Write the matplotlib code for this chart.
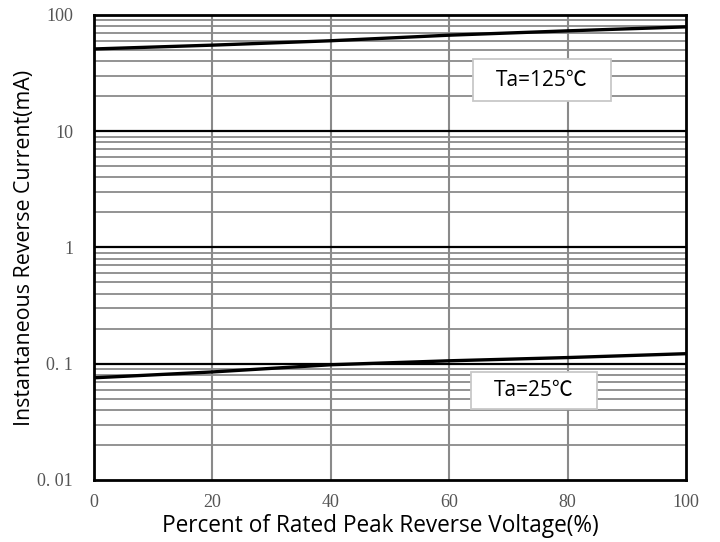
import matplotlib.pyplot as plt
from matplotlib.patches import Rectangle

# percent of rated peak reverse voltage
volt_pct = [0, 20, 40, 60, 80, 100]
# instantaneous reverse current (mA)
ir_125 = [51, 55, 60, 67, 73, 79]
ir_25 = [0.0757, 0.085, 0.098, 0.106, 0.113, 0.122]

ytick_vals = [0.01, 0.1, 1, 10, 100]
ytick_labels = ['0. 01', '0. 1', '1', '10', '100']
xtick_vals = [0, 20, 40, 60, 80, 100]

fig = plt.figure(figsize=(7.2, 5.42), dpi=100)
ax = fig.add_axes([0.1306, 0.1144, 0.822, 0.858])

ax.set_yscale('log')
ax.set_xlim(0, 100)
ax.set_ylim(0.01, 100)

# grid: gray minor lines, black decade lines
for dec in [0.01, 0.1, 1, 10]:
    for m in range(2, 10):
        ax.axhline(dec * m, color='#8a8a8a', lw=1.3, zorder=1)
for dec in ytick_vals[1:-1]:
    ax.axhline(dec, color='black', lw=1.6, zorder=2)
for x in xtick_vals[1:-1]:
    ax.axvline(x, color='#8a8a8a', lw=1.5, zorder=1)

ax.plot(volt_pct, ir_125, color='black', lw=2.4, zorder=4)
ax.plot(volt_pct, ir_25, color='black', lw=2.4, zorder=4)

ax.set_yticks(ytick_vals)
ax.set_yticklabels(ytick_labels)
ax.yaxis.set_minor_locator(plt.NullLocator())
ax.set_xticks(xtick_vals)
ax.tick_params(length=0, labelsize=13, labelcolor='#555555')
ax.tick_params(axis='y', pad=15)
ax.tick_params(axis='x', pad=10)
for lbl in ax.get_xticklabels() + ax.get_yticklabels():
    lbl.set_family('Liberation Serif')

for s in ax.spines.values():
    s.set_linewidth(2)
    s.set_color('black')
    s.set_zorder(5)

ax.set_xlabel('Percent of Rated Peak Reverse Voltage(%)', fontsize=16.3,
              family='Open Sans', va='center')
ax.xaxis.set_label_coords(0.483, -0.099)
ax.set_ylabel('Instantaneous Reverse Current(mA)', fontsize=15.4,
              family='Open Sans', va='center')
ax.yaxis.set_label_coords(-0.117, 0.5)

# label boxes
ax.add_patch(Rectangle((0.640, 0.815), 0.233, 0.090, transform=ax.transAxes,
                       facecolor='white', edgecolor='#c8c8c8', lw=1.3, zorder=6))
ax.add_patch(Rectangle((0.637, 0.153), 0.213, 0.080, transform=ax.transAxes,
                       facecolor='white', edgecolor='#c8c8c8', lw=1.3, zorder=6))
ax.text(0.757, 0.860, 'Ta=125\u2103', transform=ax.transAxes, fontsize=15,
        family=['Open Sans', 'Noto Sans CJK SC'], va='center', ha='center', zorder=7)
ax.text(0.743, 0.193, 'Ta=25\u2103', transform=ax.transAxes, fontsize=15,
        family=['Open Sans', 'Noto Sans CJK SC'], va='center', ha='center', zorder=7)

plt.savefig('out.png', dpi=100)
